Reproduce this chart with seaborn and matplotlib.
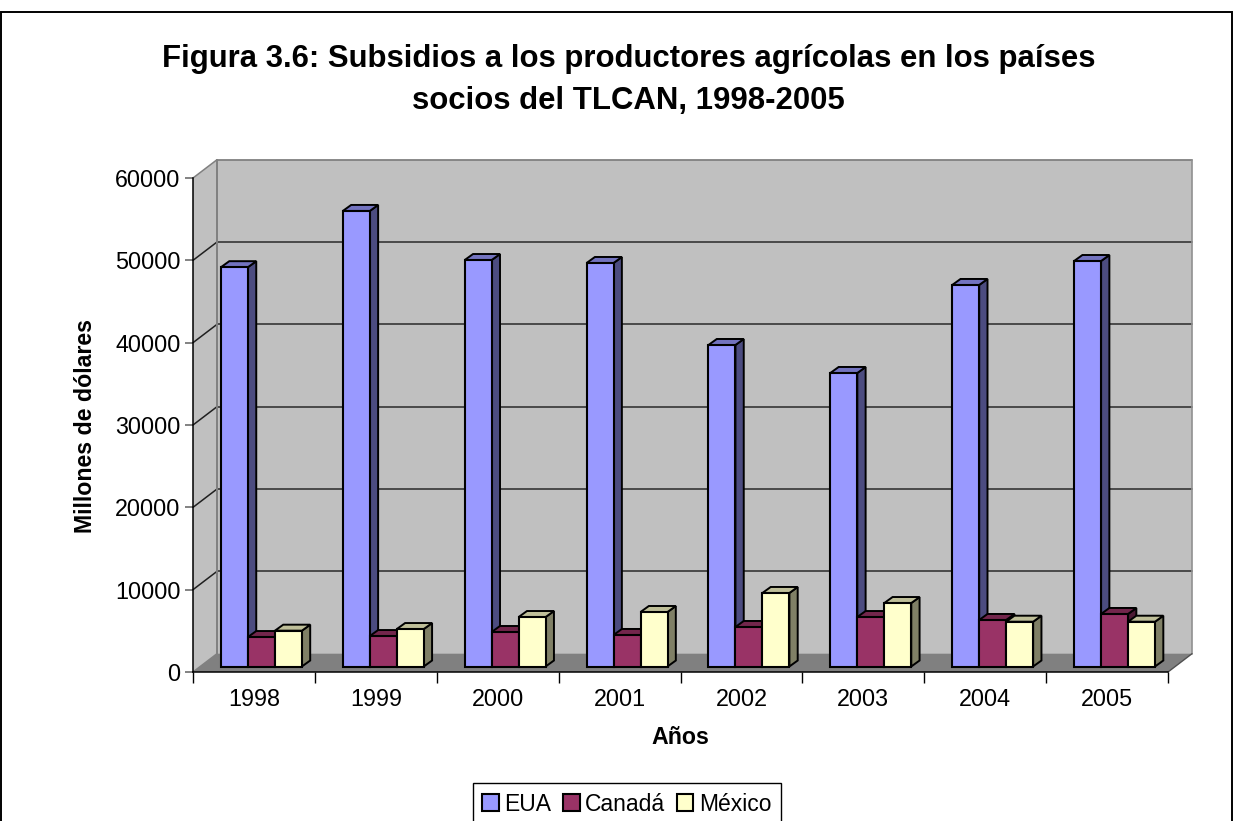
import numpy as np
import pandas as pd
import matplotlib
matplotlib.use("Agg")
import matplotlib.pyplot as plt
from matplotlib.patches import Polygon, Rectangle
from matplotlib.transforms import Affine2D, IdentityTransform
import seaborn as sns

years = ["1998", "1999", "2000", "2001", "2002", "2003", "2004", "2005"]
eua = [48500, 55330, 49370, 49010, 39050, 35650, 46340, 49250]
canada = [3580, 3700, 4190, 3830, 4800, 6010, 5650, 6380]
mexico = [4350, 4550, 6010, 6620, 8930, 7710, 5440, 5440]
series = ["EUA", "Canadá", "México"]
front = ["#9999FF", "#993366", "#FFFFCC"]
side = ["#4C4C80", "#4C1933", "#808066"]
top = ["#7373BF", "#73264C", "#BFBF99"]

W, H = 1233, 821
sns.set_style("white")
plt.rcParams["font.family"] = ["Liberation Sans", "DejaVu Sans"]
plt.rcParams["text.color"] = "black"
plt.rcParams["axes.labelcolor"] = "black"
plt.rcParams["xtick.labelcolor"] = "black"
plt.rcParams["ytick.labelcolor"] = "black"

df = pd.DataFrame({
    "Año": years * 3,
    "Serie": np.repeat(series, len(years)),
    "Valor": eua + canada + mexico,
})

fig = plt.figure(figsize=(W / 100, H / 100), dpi=100, facecolor="white")
ax = fig.add_axes([193 / W, (H - 672) / H, 975 / W, 494 / H])
ax.patch.set_alpha(0)

sns.barplot(data=df, x="Año", y="Valor", hue="Serie", hue_order=series, palette=front,
            saturation=1, width=0.664, gap=0, edgecolor="black", linewidth=1.5,
            ax=ax, legend=True)
ax.set_xlim(-0.5, 7.5)
ax.set_ylim(0, 60000)
ax.set_yticks(range(0, 60001, 10000))

# caged 3D walls
DX, DY = 24, 18.3
BDX, BDY = 8.3, 6.0
SX, SY = 7.5, 5.5
idt = IdentityTransform()
x0, y0 = ax.transData.transform((-0.5, 0))
x1, y1 = ax.transData.transform((7.5, 60000))


def poly(pts, fc, ec="none", lw=1.0, z=1.0):
    p = Polygon(pts, closed=True, facecolor=fc, edgecolor=ec, linewidth=lw,
                transform=idt, clip_on=False, zorder=z, joinstyle="miter")
    ax.add_artist(p)


poly([(x0, y0), (x0 + DX, y0 + DY), (x0 + DX, y1 + DY), (x0, y1)], "#C0C0C0")
poly([(x0 + DX, y0 + DY), (x1 + DX, y0 + DY), (x1 + DX, y1 + DY), (x0 + DX, y1 + DY)], "#C0C0C0")
poly([(x0, y0), (x0 + DX, y0 + DY), (x1 + DX, y0 + DY), (x1, y0)], "#808080")

for v in ax.get_yticks():
    _, yy = ax.transData.transform((0, v))
    if v > 0:
        ax.plot([x0 + DX, x1 + DX], [yy + DY] * 2, color="#808080" if v == 60000 else "#404040",
                lw=1.3, transform=idt, clip_on=False, zorder=1.2)
    ax.plot([x0, x0 + DX], [yy, yy + DY], color="#808080" if v in (0, 60000) else "#202020",
            lw=1.1, transform=idt, clip_on=False, zorder=1.3)
ax.plot([x0 + DX, x0 + DX], [y0 + DY, y1 + DY], color="#808080", lw=1.4, transform=idt, clip_on=False, zorder=1.3)
ax.plot([x1 + DX, x1 + DX], [y0 + DY, y1 + DY], color="#909090", lw=1.2, transform=idt, clip_on=False, zorder=1.3)
ax.plot([x1, x1 + DX], [y0, y0 + DY], color="#505050", lw=1.0, transform=idt, clip_on=False, zorder=1.3)

# bars moved onto their plane, with top and side faces
shift = Affine2D().translate(SX, SY)
n = len(years)
bars = [p for c in ax.containers for p in c]
for j, p in enumerate(bars):
    s, i = j // n, j % n
    xa, ya = ax.transData.transform((p.get_x(), 0))
    xb, yb = ax.transData.transform((p.get_x() + p.get_width(), p.get_height()))
    xa, xb, ya, yb = xa + SX, xb + SX, ya + SY, yb + SY
    z = 3 + i + s / 10
    poly([(xb, ya), (xb + BDX, ya + BDY), (xb + BDX, yb + BDY), (xb, yb)], side[s], "black", 1.4, z)
    poly([(xa, yb), (xa + BDX, yb + BDY), (xb + BDX, yb + BDY), (xb, yb)], top[s], "black", 1.4, z)
    p.set_transform(ax.transData + shift)
    p.set_clip_on(False)
    p.set_zorder(z + 0.01)

# axes
for name in ("top", "right"):
    ax.spines[name].set_visible(False)
for name in ("left", "bottom"):
    ax.spines[name].set_color("black")
    ax.spines[name].set_linewidth(1.1)
    ax.spines[name].set_zorder(2)
ax.set_xticks(np.arange(-0.5, 8, 1), minor=True)
ax.tick_params(axis="x", which="minor", length=8, width=1.0, color="black", bottom=True)
ax.tick_params(axis="x", which="major", length=0, pad=11.5, labelsize=16.8, bottom=False)
ax.tick_params(axis="y", length=6, width=1.1, color="#606060", pad=3, labelsize=16.8, left=True)
ax.set_yticklabels([str(v) for v in range(0, 60001, 10000)])

ax.set_xlabel("Años", fontsize=16.7, fontweight="bold")
ax.xaxis.set_label_coords((680.5 - 193) / 975, (672 - 744) / 494)
ax.xaxis.label.set_verticalalignment("baseline")
ax.set_ylabel("Millones de dólares", fontsize=16.7, fontweight="bold")
ax.yaxis.set_label_coords((85 - 193) / 975, (672 - 425.5) / 494)
ax.yaxis.label.set_verticalalignment("center")

fig.text(628.5 / W, 1 - 66.7 / H, "Figura 3.6: Subsidios a los productores agrícolas en los países",
         ha="center", va="baseline", fontsize=22.4, fontweight="bold")
fig.text(628.5 / W, 1 - 108.5 / H, "socios del TLCAN, 1998-2005",
         ha="center", va="baseline", fontsize=22.4, fontweight="bold")

# outer frame
fig.add_artist(Rectangle((1 / W, -0.02), (W - 2) / W, 1.02 - 12 / H, transform=fig.transFigure,
                         fill=False, edgecolor="black", linewidth=1.4))

sns.move_legend(ax, loc="upper center", bbox_to_anchor=(627 / W, 1 - 783 / H),
                bbox_transform=fig.transFigure, ncol=3, title=None, frameon=True, fancybox=False,
                framealpha=1, edgecolor="black", fontsize=16.5, handlelength=0.72, handleheight=0.72,
                handletextpad=0.25, columnspacing=0.5, borderpad=0.42, borderaxespad=0)
ax.get_legend().get_frame().set_linewidth(1.0)
ax.get_legend().set_zorder(20)

fig.savefig("out.png", dpi=100)
